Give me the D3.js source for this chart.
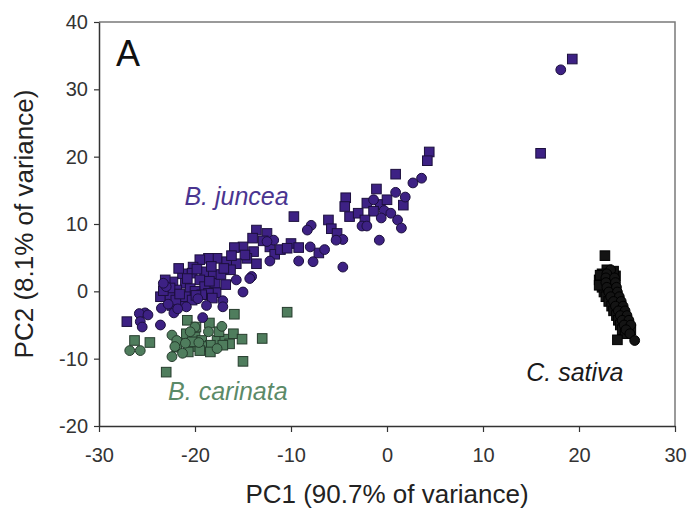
<!DOCTYPE html>
<html>
<head>
<meta charset="utf-8">
<script src="https://cdn.jsdelivr.net/npm/d3@7"></script>
<style>
  body { margin: 0; background: #fff; }
  svg { display: block; font-family: Arial, "Liberation Sans", sans-serif; }
</style>
</head>
<body>
<div class="chart"></div>
<script>
// PCA scores, [PC1, PC2]
const junceaSquares = [
  [4.4, 20.7], [4.2, 19.4], [0.9, 17.4], [-1.1, 15.2], [1.7, 12.8], [-4.3, 13.9], [-4.4, 12.6],
  [-3.9, 11.1], [-2.1, 13.1], [-0.7, 12.9], [0.0, 13.6], [-3.0, 11.6], [-1.4, 11.9], [-2.3, 10.6],
  [-9.7, 11.1], [-6.1, 10.6], [-5.8, 9.3], [-5.2, 8.6], [-13.6, 9.1], [-14.0, 7.9], [-12.5, 8.6],
  [-12.2, 6.6], [-11.7, 5.5], [-11.1, 6.2], [-10.0, 7.1], [-9.2, 6.5], [-10.4, 6.4], [-7.1, 5.7],
  [-15.0, 6.6], [-13.9, 5.9], [-14.6, 4.9], [-13.6, 4.1], [-15.9, 6.5], [-14.8, 5.4], [-17.7, 4.9],
  [-18.6, 4.9], [-19.5, 4.7], [-16.7, 4.4], [-15.7, 4.1], [-16.3, 3.2], [-20.2, 3.6], [-19.0, 2.9],
  [-18.1, 2.4], [-21.3, 2.6], [-20.3, 2.7], [-19.5, 1.7], [-21.0, 1.2], [-22.3, 1.4], [-23.1, 1.7],
  [-21.9, 0.2], [-20.5, 0.4], [-19.0, 0.7], [-17.9, 1.2], [-17.8, -0.2], [-18.6, -0.3], [-23.6, -0.8],
  [-22.6, -0.8], [-21.3, -1.8], [-22.4, -2.1], [-27.1, -4.5], [-17.3, 2.5], [-16.8, 1.0], [-20.0, 0.0],
  [-21.0, -0.8], [-19.3, -0.5], [-22.0, -1.3], [-18.2, -1.0], [-20.3, -1.3], [-12.9, 7.5],
  [-21.7, 3.4], [-20.8, 1.9], [-19.8, 3.3], [-18.3, 3.7], [-22.6, 0.5], [-23.3, 0.1], [-21.6, -0.4],
  [-19.9, -0.6], [-18.5, 1.5], [-16.2, 5.3], [-17.0, 3.4],
  [19.3, 34.5], [16.0, 20.5]
]
const junceaCircles = [
  [3.6, 16.8], [2.7, 16.1], [0.9, 14.7], [1.9, 14.0], [-1.4, 13.6], [-0.3, 12.0], [0.4, 11.6],
  [-2.6, 9.7], [-2.1, 9.7], [-0.6, 10.9], [1.1, 10.6], [1.5, 9.4], [-0.8, 7.6], [-4.6, 7.7], [-4.6, 3.6],
  [-7.9, 9.8], [-8.3, 9.1], [-5.3, 7.6], [-11.8, 7.6], [-12.5, 7.4], [-12.2, 4.5], [-9.2, 4.5],
  [-7.7, 4.4], [-8.0, 6.6], [-6.5, 6.2], [-14.1, 2.2], [-14.3, 1.9], [-15.0, -0.1], [-23.0, 0.7],
  [-23.5, -2.5], [-22.2, -3.2], [-20.9, -2.3], [-19.7, -1.1], [-18.8, -2.1], [-17.1, -1.4],
  [-17.1, -2.3], [-15.7, 1.7], [-25.2, -3.2], [-25.8, -3.3], [-24.9, -3.5], [-25.7, -4.5],
  [-25.5, -5.3], [-23.6, -5.0], [-19.2, -3.9], [-22.8, -1.9], [-23.3, 1.2], [-21.8, -2.6],
  [18.1, 32.9]
]
const carinataSquares = [
  [-15.9, -3.4], [-20.8, -4.3], [-18.5, -4.7], [-19.9, -5.3], [-26.3, -7.3], [-24.7, -7.6],
  [-20.9, -6.3], [-20.0, -6.8], [-19.3, -7.3], [-17.7, -7.3], [-16.9, -7.1], [-16.0, -6.3],
  [-15.1, -7.1], [-16.4, -7.8], [-17.1, -8.0], [-18.4, -8.0], [-19.3, -8.2], [-20.2, -8.2],
  [-21.9, -8.3], [-20.7, -9.0], [-19.5, -8.8], [-18.4, -9.0], [-15.0, -10.4], [-23.0, -12.0],
  [-13.0, -7.0], [-10.4, -3.1], [-20.3, -7.5], [-17.5, -6.0]
]
const carinataCircles = [
  [-17.2, -5.2], [-26.8, -8.8], [-25.7, -8.8], [-22.4, -6.5], [-21.9, -7.3], [-18.6, -6.0],
  [-21.0, -7.7], [-22.4, -9.7], [-20.0, -5.3], [-22.1, -8.2], [-19.6, -7.6], [-17.7, -8.5],
  [-20.5, -6.0], [-21.3, -9.2]
]
const sativaSquares = [
  [22.7, 5.3], [22.9, 3.2], [22.4, 2.6], [23.4, 2.6], [22.3, 2.0], [23.3, 2.0], [22.3, 1.3],
  [23.3, 1.3], [22.4, 0.6], [23.4, 0.6], [22.6, -0.1], [23.6, -0.1], [22.8, -0.8], [23.8, -0.8],
  [23.1, -1.5], [24.0, -1.5], [23.4, -2.2], [24.3, -2.2], [23.6, -2.9], [24.5, -2.9], [23.9, -3.6],
  [24.7, -3.6], [24.1, -4.3], [24.9, -4.3], [24.3, -5.0], [25.1, -5.0], [24.5, -5.7], [25.4, -5.7],
  [24.8, -6.3], [24.0, -7.2], [22.1, 1.7], [22.1, 0.9], [22.2, 2.4], [23.8, 2.3], [23.6, 3.0]
]
const sativaCircles = [
  [23.3, 3.2], [22.9, 2.6], [22.8, 2.0], [23.7, 2.0], [22.8, 1.3], [23.8, 1.3], [22.9, 0.6],
  [23.9, 0.6], [23.1, -0.1], [24.0, -0.1], [23.3, -0.8], [24.2, -0.8], [23.6, -1.5], [24.4, -1.5],
  [23.8, -2.2], [24.6, -2.2], [24.1, -2.9], [24.8, -2.9], [24.3, -3.6], [25.0, -3.6], [24.5, -4.3],
  [25.2, -4.3], [24.7, -5.0], [25.4, -5.0], [24.9, -5.7], [25.3, -6.3], [25.8, -7.3]
]
const xTicks = [-30, -20, -10, 0, 10, 20, 30]
const yTicks = [-20, -10, 0, 10, 20, 30, 40]

const W = 691
const H = 508
const margin = { top: 22, right: 16, bottom: 82, left: 99 }
const innerW = W - margin.left - margin.right
const innerH = H - margin.top - margin.bottom

const x = d3.scaleLinear().domain([-30, 30]).range([0, innerW])
const y = d3.scaleLinear().domain([-20, 40]).range([innerH, 0])

const svg = d3.select('.chart')
  .append('svg')
  .attr('width', W)
  .attr('height', H)

const g = svg.append('g')
  .attr('transform', `translate(${margin.left},${margin.top})`)

// frame (top / right)
g.append('path')
  .attr('d', `M0,0H${innerW}V${innerH}`)
  .attr('fill', 'none')
  .attr('stroke', '#7a7a7a')
  .attr('stroke-width', 1.5)

// plain hyphen for negatives, like the original
const fmt = d => String(d)

const xAxis = g.append('g')
  .attr('transform', `translate(0,${innerH})`)
  .call(d3.axisBottom(x).tickValues(xTicks).tickFormat(fmt).tickSize(6).tickSizeOuter(0).tickPadding(16))
const yAxis = g.append('g')
  .call(d3.axisLeft(y).tickValues(yTicks).tickFormat(fmt).tickSize(5).tickSizeOuter(0).tickPadding(6))

;[xAxis, yAxis].forEach(ax => {
  ax.select('.domain').attr('stroke', '#333').attr('stroke-width', 1.5)
  ax.selectAll('.tick line').attr('stroke', '#333').attr('stroke-width', 1.2)
  ax.selectAll('.tick text')
    .attr('fill', '#333')
    .style('font-size', '20px')
    .style('font-family', 'Arial, "Liberation Sans", sans-serif')
})

const groups = [
  { sq: sativaSquares, ci: sativaCircles, fill: '#141414', stroke: '#000' },
  { sq: carinataSquares, ci: carinataCircles, fill: '#4f7d5d', stroke: '#263c2d' },
  { sq: junceaSquares, ci: junceaCircles, fill: '#3d2184', stroke: '#1c0f3d' }
]
const half = 4.8

groups.forEach(grp => {
  g.append('g').selectAll('rect')
    .data(grp.sq)
    .join('rect')
    .attr('x', d => x(d[0]) - half)
    .attr('y', d => y(d[1]) - half)
    .attr('width', half * 2)
    .attr('height', half * 2)
    .attr('fill', grp.fill)
    .attr('stroke', grp.stroke)
    .attr('stroke-width', 1)
  g.append('g').selectAll('circle')
    .data(grp.ci)
    .join('circle')
    .attr('cx', d => x(d[0]))
    .attr('cy', d => y(d[1]))
    .attr('r', 4.9)
    .attr('fill', grp.fill)
    .attr('stroke', grp.stroke)
    .attr('stroke-width', 1)
})

// labels
g.append('text')
  .attr('x', 17).attr('y', 44)
  .style('font-size', '36px')
  .attr('fill', '#111')
  .text('A')

const species = [
  { name: 'B. juncea', px: -21.1, py: 12.8, color: '#4a3590' },
  { name: 'B. carinata', px: -22.8, py: -16.1, color: '#5b8a68' },
  { name: 'C. sativa', px: 14.5, py: -13.3, color: '#1a1a1a' }
]
g.selectAll('.sp')
  .data(species)
  .join('text')
  .attr('class', 'sp')
  .attr('x', d => x(d.px))
  .attr('y', d => y(d.py))
  .attr('fill', d => d.color)
  .style('font-size', '25px')
  .style('font-style', 'italic')
  .text(d => d.name)

svg.append('text')
  .attr('x', margin.left + innerW / 2)
  .attr('y', 503)
  .attr('text-anchor', 'middle')
  .attr('fill', '#222')
  .style('font-size', '26px')
  .text('PC1 (90.7% of variance)')

svg.append('text')
  .attr('transform', `translate(33,${margin.top + innerH / 2}) rotate(-90)`)
  .attr('text-anchor', 'middle')
  .attr('fill', '#222')
  .style('font-size', '26px')
  .text('PC2 (8.1% of variance)')
</script>
</body>
</html>
